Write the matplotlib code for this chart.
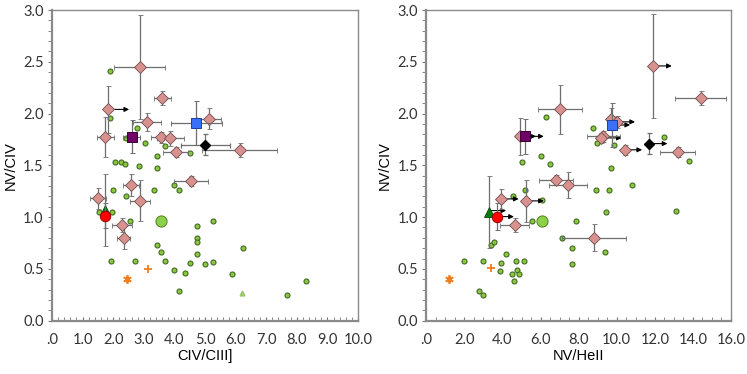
import matplotlib
matplotlib.use("Agg")
import matplotlib.pyplot as plt
from matplotlib.ticker import MultipleLocator, FuncFormatter

# ---- data: left panel (CIV/CIII] vs NV/CIV) ----
dots_L_x = [1.89, 1.89, 2.78, 2.42, 3.03, 3.69, 3.44, 4.52, 2.07, 2.27, 2.39, 2.85, 3.44,
            1.99, 3.32, 3.98, 4.15, 2.43, 1.55, 1.95, 2.55, 4.75, 5.26, 4.75, 4.75, 3.44,
            3.57, 6.23, 4.75, 1.93, 2.70, 3.69, 4.52, 4.99, 5.26, 3.98, 4.35, 5.88, 8.31,
            4.15, 7.69]
dots_L_y = [2.415, 1.96, 1.865, 1.76, 1.72, 1.69, 1.59, 1.62, 1.53, 1.53, 1.51, 1.495, 1.475,
            1.26, 1.26, 1.31, 1.26, 1.20, 1.05, 1.05, 0.963, 0.912, 0.96, 0.80, 0.763, 0.73,
            0.667, 0.70, 0.64, 0.577, 0.577, 0.577, 0.557, 0.55, 0.57, 0.487, 0.46, 0.448, 0.38,
            0.29, 0.25]

dia_L_x = [2.87, 1.83, 1.74, 3.61, 3.10, 5.13, 3.55, 3.87, 4.04, 6.13, 4.54, 2.59, 1.51, 2.88, 2.28, 2.34]
dia_L_y = [2.45, 2.04, 1.775, 2.15, 1.92, 1.95, 1.77, 1.76, 1.63, 1.65, 1.35, 1.31, 1.18, 1.16, 0.925, 0.80]
dia_L_xerr = [0.83, 0.0, 0.28, 0.27, 0.45, 0.39, 0.30, 0.43, 0.41, 1.22, 0.55, 0.26, 0.27, 0.33, 0.33, 0.22]
dia_L_yerr = [0.50, 0.23, 0.19, 0.07, 0.09, 0.10, 0.05, 0.07, 0.05, 0.07, 0.05, 0.11, 0.10, 0.20, 0.07, 0.11]
arrow_L = [(1.83, 2.04, 2.52)]  # (x, y, arrow end x)

# special objects, left: (x, y, xerr, yerr)
purple_L = (2.60, 1.775, 0.29, 0.16)
blue_L = (4.71, 1.91, 0.83, 0.21)
black_L = (5.01, 1.70, 0.81, 0.10)
tri_L = (1.74, 1.07, 0.0, 0.35)
red_L = (1.74, 1.015, 0.0, 0.12)
bigdot_L = (3.57, 0.963)
star_L = (2.45, 0.40)
plus_L = (3.15, 0.50)
smalltri_L = (6.22, 0.27)

# ---- data: right panel (NV/HeII vs NV/CIV) ----
dots_R_x = [6.27, 8.76, 8.97, 9.87, 12.48, 13.8, 6.01, 6.51, 5.04, 9.70, 10.8,
            5.18, 8.90, 9.60, 4.55, 6.08, 5.57, 7.88, 9.44, 13.1, 7.14, 7.64, 9.40, 7.64,
            3.40, 3.56, 4.17, 1.98, 2.98, 3.92, 4.71, 5.15, 3.89, 4.78, 4.48, 4.88, 4.61,
            2.78, 2.98]
dots_R_y = [1.965, 1.865, 1.72, 1.695, 1.77, 1.54, 1.59, 1.514, 1.536, 1.47, 1.31,
            1.26, 1.26, 1.26, 1.20, 1.166, 0.963, 0.963, 1.053, 1.06, 0.80, 0.70, 0.667, 0.548,
            0.731, 0.757, 0.642, 0.574, 0.58, 0.56, 0.58, 0.58, 0.483, 0.49, 0.454, 0.448, 0.38,
            0.29, 0.25]

dia_R_x = [11.91, 14.41, 7.02, 4.90, 9.70, 10.02, 9.30, 9.16, 10.42, 13.20, 6.80, 7.43, 3.92, 5.22, 4.64, 8.82]
dia_R_y = [2.46, 2.15, 2.04, 1.78, 1.95, 1.92, 1.78, 1.765, 1.65, 1.63, 1.36, 1.31, 1.176, 1.157, 0.925, 0.80]
dia_R_xerr = [0.0, 1.33, 1.16, 0.0, 0.0, 0.0, 0.85, 0.0, 0.0, 0.91, 0.88, 0.99, 0.0, 0.0, 0.76, 1.69]
dia_R_yerr = [0.50, 0.07, 0.24, 0.18, 0.10, 0.06, 0.05, 0.05, 0.05, 0.05, 0.05, 0.13, 0.10, 0.20, 0.07, 0.13]
arrow_R = [(11.91, 2.46, 12.89), (10.02, 1.92, 10.96), (9.74, 1.89, 10.70), (9.16, 1.765, 10.26),
           (10.42, 1.65, 11.33), (11.71, 1.71, 12.66), (4.90, 1.78, 5.76), (5.18, 1.78, 6.17),
           (3.92, 1.176, 4.85), (5.22, 1.157, 6.17), (3.31, 1.063, 4.19), (3.70, 1.005, 4.60)]

purple_R = (5.18, 1.78, 0.0, 0.17)
blue_R = (9.74, 1.89, 0.0, 0.21)
black_R = (11.71, 1.71, 0.0, 0.10)
tri_R = (3.31, 1.05, 0.0, 0.35)
red_R = (3.70, 1.005, 0.0, 0.13)
bigdot_R = (6.09, 0.963)
star_R = (1.21, 0.40)
plus_R = (3.38, 0.506)

ERR = dict(ecolor="#6e6e6e", elinewidth=0.9, capsize=1.8, capthick=0.9, ls="none")


def fmt_x(v, pos):
    return ".0" if abs(v) < 1e-9 else "%.1f" % v


def fmt_y(v, pos):
    return "%.1f" % v


def panel(ax, xmax, xmajor, xminor, xlabel, dx, dy, ddx, ddy, dxe, dye, arrows,
          purple, blue, black, tri, red, bigdot, star, plus, smalltri=None):
    ax.plot(dx, dy, "o", ms=3.6, mfc="#8dc63f", mec="#3f6b22", mew=0.8, zorder=3)
    ax.errorbar(ddx, ddy, xerr=dxe, yerr=dye, fmt="D", ms=6, mfc="#d9918f",
                mec="#6a5050", mew=0.6, zorder=4, **ERR)
    for x, y, xe in arrows:
        ax.annotate("", xy=(xe, y), xytext=(x, y),
                    arrowprops=dict(arrowstyle="-|>", color="black", lw=0.8,
                                    mutation_scale=7, shrinkA=0, shrinkB=0), zorder=3)
    ax.errorbar(purple[0], purple[1], xerr=purple[2], yerr=purple[3], fmt="s", ms=7,
                mfc="#6e0066", mec="#3a0035", mew=0.7, zorder=5, **ERR)
    ax.errorbar(blue[0], blue[1], xerr=blue[2], yerr=blue[3], fmt="s", ms=7.5,
                mfc="#3a6ff7", mec="#1e3f9a", mew=0.7, zorder=5, **ERR)
    ax.errorbar(black[0], black[1], xerr=black[2], yerr=black[3], fmt="D", ms=5.5,
                mfc="black", mec="black", zorder=5, **ERR)
    ax.errorbar(tri[0], tri[1], xerr=tri[2], yerr=tri[3], fmt="^", ms=7,
                mfc="#0a7a12", mec="#044a08", mew=0.6, zorder=5, **ERR)
    ax.errorbar(red[0], red[1], xerr=red[2], yerr=red[3], fmt="o", ms=7.5,
                mfc="#ff0000", mec="#a00000", mew=0.7, zorder=6, **ERR)
    ax.plot(bigdot[0], bigdot[1], "o", ms=8, mfc="#8dd04a", mec="#5a8a2a", mew=0.8, zorder=4)
    ax.plot(star[0], star[1], marker=(6, 2, 0), ms=6, color="#f07f1e", mew=1.3, ls="none", zorder=4)
    ax.plot(plus[0], plus[1], "+", ms=6, color="#f07f1e", mew=1.3, zorder=4)
    if smalltri is not None:
        ax.plot(smalltri[0], smalltri[1], "^", ms=3.5, mfc="#9ac86a", mec="#9ac86a", zorder=4)

    ax.set_xlim(0, xmax)
    ax.set_ylim(0, 3.0)
    ax.xaxis.set_major_locator(MultipleLocator(xmajor))
    ax.xaxis.set_minor_locator(MultipleLocator(xminor))
    ax.yaxis.set_major_locator(MultipleLocator(0.5))
    ax.yaxis.set_minor_locator(MultipleLocator(0.1))
    ax.xaxis.set_major_formatter(FuncFormatter(fmt_x))
    ax.yaxis.set_major_formatter(FuncFormatter(fmt_y))
    ax.tick_params(axis="x", which="both", direction="in", length=3, color="#777777",
                   labelsize=10.5, pad=9, top=False)
    ax.tick_params(axis="y", which="both", direction="out", length=3, color="#777777",
                   labelsize=10.5, pad=3, right=False)
    for lab in ax.get_xticklabels() + ax.get_yticklabels():
        lab.set_fontfamily("Lato")
        lab.set_color("#333333")
    for s in ax.spines.values():
        s.set_color("#8a8a8a")
        s.set_linewidth(1.0)
    ax.spines["left"].set_linewidth(1.6)
    ax.spines["bottom"].set_linewidth(1.6)
    ax.set_xlabel(xlabel, fontsize=10.5, family="Liberation Sans", labelpad=1)
    ax.set_ylabel("NV/CIV", fontsize=10.5, family="Liberation Sans", labelpad=4)


fig = plt.figure(figsize=(7.47, 3.74), dpi=100)
axL = fig.add_axes([52 / 747, 53.3 / 374, 306 / 747, 310.7 / 374])
axR = fig.add_axes([426.3 / 747, 53.3 / 374, 304.7 / 747, 310.7 / 374])

panel(axL, 10, 1.0, 0.2, "CIV/CIII]", dots_L_x, dots_L_y,
      dia_L_x, dia_L_y, dia_L_xerr, dia_L_yerr, arrow_L,
      purple_L, blue_L, black_L, tri_L, red_L, bigdot_L, star_L, plus_L, smalltri_L)
panel(axR, 16, 2.0, 0.5, "NV/HeII", dots_R_x, dots_R_y,
      dia_R_x, dia_R_y, dia_R_xerr, dia_R_yerr, arrow_R,
      purple_R, blue_R, black_R, tri_R, red_R, bigdot_R, star_R, plus_R)

fig.savefig("out.png", dpi=100)
